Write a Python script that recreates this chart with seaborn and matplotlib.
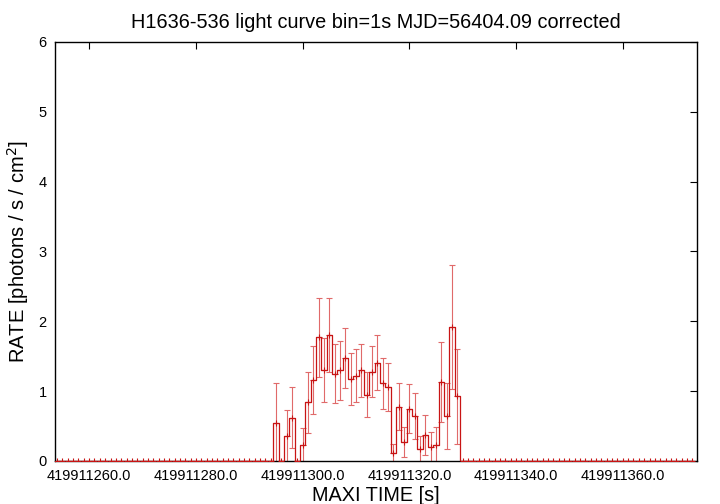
import numpy as np
import pandas as pd
import matplotlib
matplotlib.use("Agg")
import matplotlib.pyplot as plt
from matplotlib.ticker import FuncFormatter, FixedLocator
import seaborn as sns

# ---- data ----
time_base = 419911254          # first bin (s)
n_bins = 120                    # 1 s bins
active_rate = [0.55, 0.00, 0.36, 0.62, 0.00, 0.23, 0.84, 1.16, 1.77, 1.30,
               1.80, 1.25, 1.30, 1.47, 1.17, 1.22, 1.30, 0.95, 1.28, 1.41,
               1.11, 1.06, 0.11, 0.78, 0.27, 0.75, 0.65, 0.17, 0.37, 0.20,
               0.23, 1.13, 0.64, 1.92, 0.93]
active_err = [0.57, 0.00, 0.37, 0.44, 0.00, 0.24, 0.44, 0.48, 0.56, 0.46,
              0.53, 0.42, 0.42, 0.43, 0.37, 0.38, 0.38, 0.32, 0.37, 0.39,
              0.36, 0.35, 0.13, 0.33, 0.21, 0.35, 0.33, 0.19, 0.29, 0.22,
              0.26, 0.57, 0.47, 0.89, 0.68]
pre_zeros = 41
post_zeros = 44
rate = [0.0] * pre_zeros + active_rate + [0.0] * post_zeros
err = [0.0] * pre_zeros + active_err + [0.0] * post_zeros
time = time_base + np.arange(n_bins)

xticks = [419911260.0, 419911280.0, 419911300.0, 419911320.0, 419911340.0, 419911360.0]
yticks = [0, 1, 2, 3, 4, 5, 6]
title = "H1636-536 light curve bin=1s MJD=56404.09 corrected"

df = pd.DataFrame({"time": time.astype(float), "rate": rate, "err": err})

sns.set_style("white")
plt.rcParams["font.family"] = ["Liberation Sans", "DejaVu Sans"]
plt.rcParams["text.color"] = "black"
plt.rcParams["axes.labelcolor"] = "black"
plt.rcParams["xtick.color"] = "black"
plt.rcParams["ytick.color"] = "black"

fig = plt.figure(figsize=(7.2, 5.04), dpi=100)
ax = fig.add_axes([55 / 720, 1 - 461 / 504, (697 - 55) / 720, (461 - 42) / 504])

ax.errorbar(df["time"], df["rate"], yerr=df["err"], fmt="none",
            ecolor="#e06a6a", elinewidth=0.8, capsize=2.5, capthick=0.8, zorder=2)
sns.lineplot(data=df, x="time", y="rate", estimator=None, drawstyle="steps-mid",
             color="#c81414", linewidth=0.9, ax=ax, zorder=3)
ax.plot(df["time"], df["rate"], linestyle="none", marker="+", markersize=4,
        markeredgewidth=0.8, color="#c81414", zorder=4)

ax.set_xlim(419911253.6, 419911373.9)
ax.set_ylim(0, 6)
ax.xaxis.set_major_locator(FixedLocator(xticks))
ax.yaxis.set_major_locator(FixedLocator(yticks))
ax.xaxis.set_major_formatter(FuncFormatter(lambda v, p: f"{v:.1f}"))
ax.yaxis.set_major_formatter(FuncFormatter(lambda v, p: f"{v:g}"))
ax.tick_params(direction="in", length=5, width=0.8, color="black",
               labelcolor="black", top=True, right=True, labelsize=10.5, pad=6)

for s in ax.spines.values():
    s.set_color("black")
    s.set_linewidth(1.0)

ax.set_title(title, fontsize=14.3, pad=10, color="black")
ax.set_xlabel("MAXI TIME [s]", fontsize=14.3, labelpad=2, color="black")
ax.set_ylabel("RATE [photons / s / cm$^2$]", fontsize=14.5, labelpad=5, color="black")

fig.savefig("out.png", dpi=100)
